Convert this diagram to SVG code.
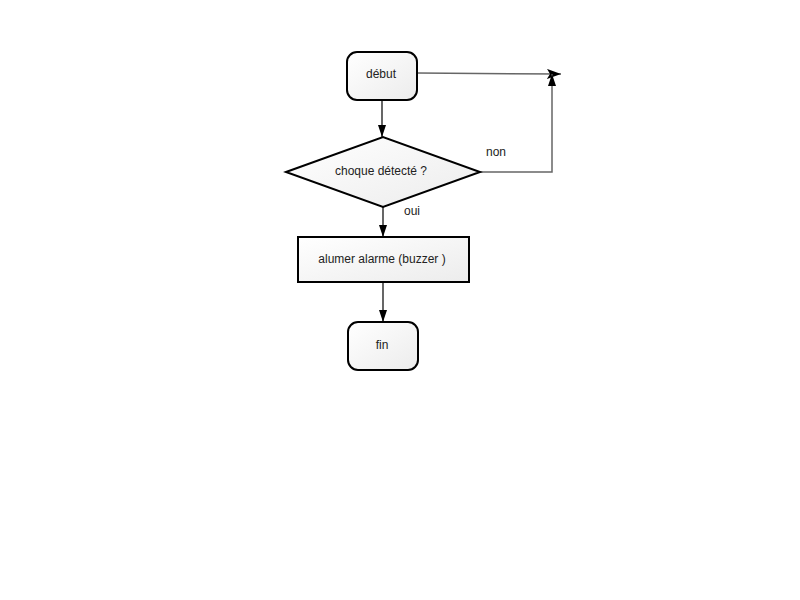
<svg xmlns="http://www.w3.org/2000/svg" width="800" height="600" viewBox="0 0 800 600">
<defs>
<linearGradient id="g" x1="0" y1="0" x2="1" y2="1">
<stop offset="0" stop-color="#ffffff"/>
<stop offset="1" stop-color="#ececec"/>
</linearGradient>
<marker id="ah" viewBox="0 0 12 8" refX="12" refY="4" markerWidth="12" markerHeight="8" markerUnits="userSpaceOnUse" orient="auto">
<path d="M0,0 L12,4 L0,8 Z" fill="#000"/>
</marker>
<marker id="ah2" viewBox="0 0 14 10" refX="14" refY="5" markerWidth="14" markerHeight="10" markerUnits="userSpaceOnUse" orient="auto">
<path d="M0,0 L14,5 L0,10 L3,5 Z" fill="#000"/>
</marker>
</defs>
<style>
.shape{fill:url(#g);stroke:#000;stroke-width:2}
.lbl{font-family:"Liberation Sans",Arial,sans-serif;font-size:12px;fill:#222;text-anchor:middle;dominant-baseline:central}
.edge{fill:none;stroke:#000;stroke-width:1.2}
.edge2{fill:none;stroke:#666;stroke-width:1.5}
</style>
<rect width="800" height="600" fill="#fff"/>
<g id="connectors">
<line class="edge" x1="382" y1="100" x2="382" y2="137" marker-end="url(#ah)"/>
<line class="edge" x1="383" y1="207" x2="383" y2="237" marker-end="url(#ah)"/>
<line class="edge" x1="383" y1="282" x2="383" y2="322" marker-end="url(#ah)"/>
<line class="edge2" x1="417" y1="73" x2="561" y2="74" marker-end="url(#ah2)"/>
<polyline class="edge2" points="480,172 552,172 552,74" marker-end="url(#ah)"/>
<text class="lbl" x="496" y="152">non</text>
<text class="lbl" x="412" y="211">oui</text>
</g>
<g id="debut">
<rect class="shape" x="347" y="52" width="70" height="48" rx="10"/>
<text class="lbl" x="381" y="74">début</text>
</g>
<g id="choque">
<polygon class="shape" points="286,172 383,137 480,172 383,207"/>
<text class="lbl" x="381" y="171">choque détecté ?</text>
</g>
<g id="alarme">
<rect class="shape" x="298" y="237" width="171" height="45"/>
<text class="lbl" x="382" y="259">alumer alarme (buzzer )</text>
</g>
<g id="fin">
<rect class="shape" x="348" y="322" width="70" height="48" rx="10"/>
<text class="lbl" x="382" y="345">fin</text>
</g>
</svg>
